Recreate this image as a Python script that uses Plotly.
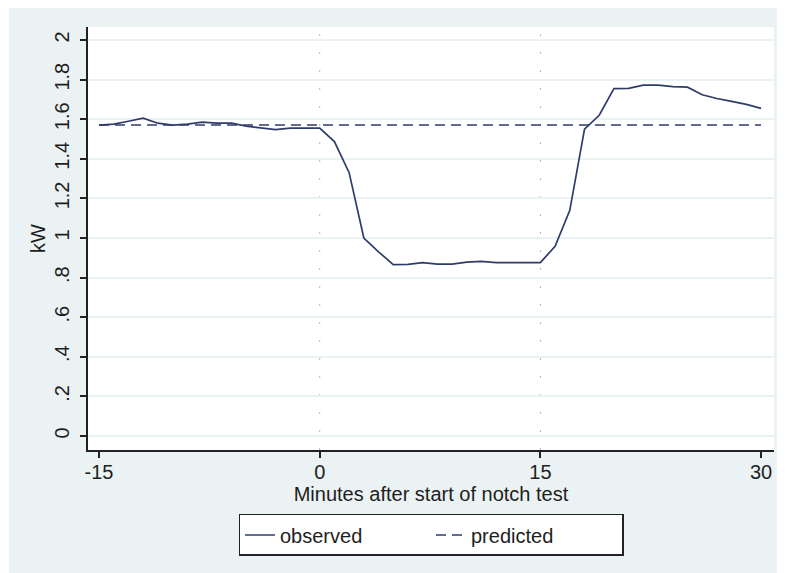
import plotly.graph_objects as go

# ---- data ----
minutes = list(range(-15, 31))
observed = [1.570, 1.575, 1.590, 1.605, 1.580, 1.570, 1.575, 1.585, 1.580, 1.580,
            1.565, 1.555, 1.548, 1.555, 1.555, 1.555, 1.487, 1.330, 1.000, 0.930,
            0.866, 0.867, 0.876, 0.868, 0.868, 0.878, 0.882, 0.876, 0.876, 0.876,
            0.876, 0.958, 1.140, 1.550, 1.620, 1.755, 1.756, 1.772, 1.772, 1.765,
            1.762, 1.724, 1.705, 1.690, 1.675, 1.655]
predicted = [1.571] * len(minutes)

x_ticks = [-15, 0, 15, 30]
x_ticktext = ["-15", "0", "15", "30"]
y_ticks = [0, 0.2, 0.4, 0.6, 0.8, 1.0, 1.2, 1.4, 1.6, 1.8, 2.0]
y_ticktext = ["0", ".2", ".4", ".6", ".8", "1", "1.2", "1.4", "1.6", "1.8", "2"]
vlines = [0, 15]

LINE = "#2f3c6a"
BG = "#eaf2f3"
FONT = "Liberation Sans, Arial, sans-serif"

fig = go.Figure()
fig.add_trace(go.Scatter(x=minutes, y=observed, mode="lines", name="observed",
                         line=dict(color=LINE, width=1.7)))
fig.add_trace(go.Scatter(x=minutes, y=predicted, mode="lines", name="predicted",
                         line=dict(color=LINE, width=1.7, dash="10px,6px")))

# page has an 8px body margin; figure sized to fit the 785x573 window
W, H = 777, 565
ml, mr, mt, mb = 80, 11, 19, 123
pw, ph = W - ml - mr, H - mt - mb

shapes = [
    # outer graph region
    dict(type="rect", xref="paper", yref="paper", layer="below",
         x0=(1 - ml) / pw, x1=(W + 5 - ml) / pw,
         y0=-(H + 5 - mt - ph) / ph, y1=(ph + mt + 5) / ph,
         fillcolor=BG, line=dict(width=0)),
    # plot region
    dict(type="rect", xref="paper", yref="paper", layer="below",
         x0=0, x1=1, y0=0, y1=1, fillcolor="white", line=dict(width=0)),
]
for v in vlines:
    shapes.append(dict(type="line", xref="x", yref="paper", layer="below",
                       x0=v, x1=v, y0=0, y1=1,
                       line=dict(color="#b4b4b4", width=1, dash="2px,16px")))

fig.update_layout(
    width=W, height=H,
    margin=dict(l=ml, r=mr, t=mt, b=mb),
    paper_bgcolor="white", plot_bgcolor="white",
    font=dict(family=FONT, size=20, color="#1e1e1e"),
    shapes=shapes,
    showlegend=True,
    legend=dict(orientation="h", x=0.5, xanchor="center", y=-0.1513, yanchor="top",
                bgcolor="white", bordercolor="#222", borderwidth=1.5,
                font=dict(size=20), entrywidth=146, entrywidthmode="pixels",
                itemclick=False),
    xaxis=dict(range=[-15.75, 30.88], tickvals=x_ticks, ticktext=x_ticktext,
               showgrid=False, zeroline=False,
               showline=True, linecolor="#222", linewidth=1.5,
               ticks="outside", ticklen=6, tickwidth=1.5, tickcolor="#222",
               ticklabelstandoff=-3,
               title=dict(text="Minutes after start of notch test", standoff=0,
                          font=dict(size=20))),
    yaxis=dict(range=[-0.071, 2.066], tickvals=y_ticks, ticktext=y_ticktext,
               tickangle=-90, showgrid=True, gridcolor=BG, gridwidth=1.5,
               zeroline=False, showline=True, linecolor="#222", linewidth=1.5,
               ticks="outside", ticklen=6, tickwidth=1.5, tickcolor="#222",
               ticklabelstandoff=3,
               title=dict(text="kW", standoff=0, font=dict(size=20))),
)

fig.write_html("out.html")
